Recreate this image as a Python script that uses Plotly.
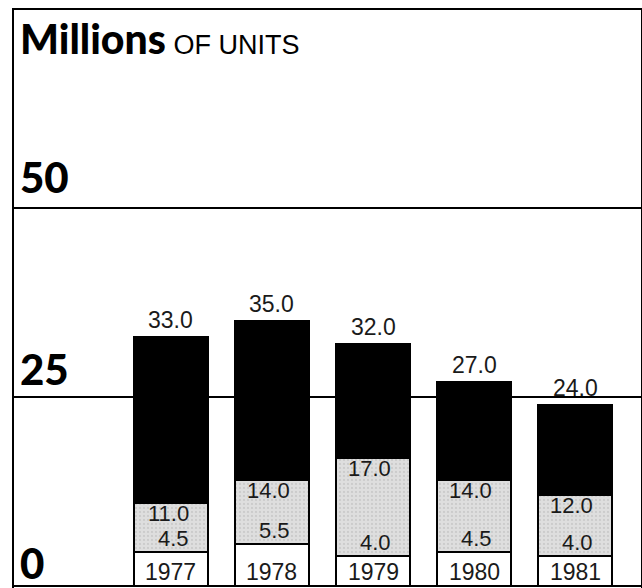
import plotly.graph_objects as go

# ── Dados (milhões de unidades) ─────────────────────────────────────────────
anos = ["1977", "1978", "1979", "1980", "1981"]
total = [33.0, 35.0, 32.0, 27.0, 24.0]
superior = [11.0, 14.0, 17.0, 14.0, 12.0]
inferior = [4.5, 5.5, 4.0, 4.5, 4.0]
marcas_y = [0, 25, 50]

# segmentos empilhados derivados dos valores acumulados
seg_branco = inferior
seg_cinza = [s - i for s, i in zip(superior, inferior)]
seg_preto = [t - s for t, s in zip(total, superior)]
pos = list(range(len(anos)))  # eixo numérico: evita que "1977" vire número/data

PRETO = "#000000"
NUMEROS = dict(family="Liberation Sans, Arial, sans-serif", size=23, color="#1a1a1a")
NUM_CINZA = dict(NUMEROS, size=22)
PESADA = dict(family="Lato, Roboto, Arial Black, sans-serif", weight=900, color="#000000")

fig = go.Figure()

contorno = dict(color=PRETO, width=2)
fig.add_trace(go.Bar(x=pos, y=seg_branco, marker=dict(color="#ffffff", line=contorno),
                     width=0.73, hoverinfo="skip"))
fig.add_trace(go.Bar(x=pos, y=seg_cinza,
                     marker=dict(color="#dcdcdc", line=contorno,
                                 pattern=dict(shape=".", fgcolor="#b8b8b8", bgcolor="#dedede",
                                              size=4, solidity=0.25)),
                     width=0.73, hoverinfo="skip"))
fig.add_trace(go.Bar(x=pos, y=seg_preto, marker=dict(color=PRETO, line=contorno),
                     width=0.73, hoverinfo="skip"))

# ── Rótulos ─────────────────────────────────────────────────────────────────
for p, ano, t, s, i in zip(pos, anos, total, superior, inferior):
    fig.add_annotation(x=p, y=t, text=f"{t:.1f}", showarrow=False,
                       yanchor="bottom", yshift=2, font=NUMEROS)
    fig.add_annotation(x=p, y=s, text=f"{s:.1f}", showarrow=False,
                       xanchor="right", xshift=20, yanchor="top", yshift=4, font=NUM_CINZA)
    fig.add_annotation(x=p, y=i, text=f"{i:.1f}", showarrow=False,
                       xanchor="right", xshift=20, yanchor="bottom", yshift=-1, font=NUM_CINZA)
    fig.add_annotation(x=p, y=0, text=ano, showarrow=False,
                       yanchor="bottom", yshift=-1, font=NUMEROS)

desloc_marca = {0: -4, 25: 1, 50: 4}
for v in marcas_y:
    fig.add_annotation(xref="paper", x=0, y=v, text=str(v), showarrow=False,
                       xanchor="left", xshift=4, yanchor="bottom", yshift=desloc_marca[v],
                       font=dict(PESADA, size=42))

fig.add_annotation(xref="paper", yref="paper", x=0, y=1, xshift=4, yshift=-2,
                   xanchor="left", yanchor="top", showarrow=False,
                   text="<span style='font-size:41px;font-weight:900'>Millions</span>"
                        "<span style='font-size:27px;font-weight:400;font-family:Liberation Sans'> OF UNITS</span>",
                   font=dict(PESADA, size=41))

fig.update_layout(
    barmode="stack",
    showlegend=False,
    width=642, height=588,
    margin=dict(l=14, r=1, t=10, b=0),
    paper_bgcolor="#ffffff",
    plot_bgcolor="#ffffff",
    xaxis=dict(range=[-1.554, 4.653], showticklabels=False, showgrid=False, zeroline=False,
               showline=True, mirror=True, linecolor=PRETO, linewidth=2),
    yaxis=dict(range=[-0.26, 76.19], tickvals=marcas_y, showticklabels=False,
               showgrid=True, gridcolor=PRETO, gridwidth=2, zeroline=False,
               showline=True, mirror=True, linecolor=PRETO, linewidth=2),
)

# a página padrão tem margem de 8px no body; zera para o gráfico ocupar a janela
fig.write_html("out.html", config={"displayModeBar": False},
               post_script="document.body.style.margin='0';document.body.style.overflow='hidden';")
